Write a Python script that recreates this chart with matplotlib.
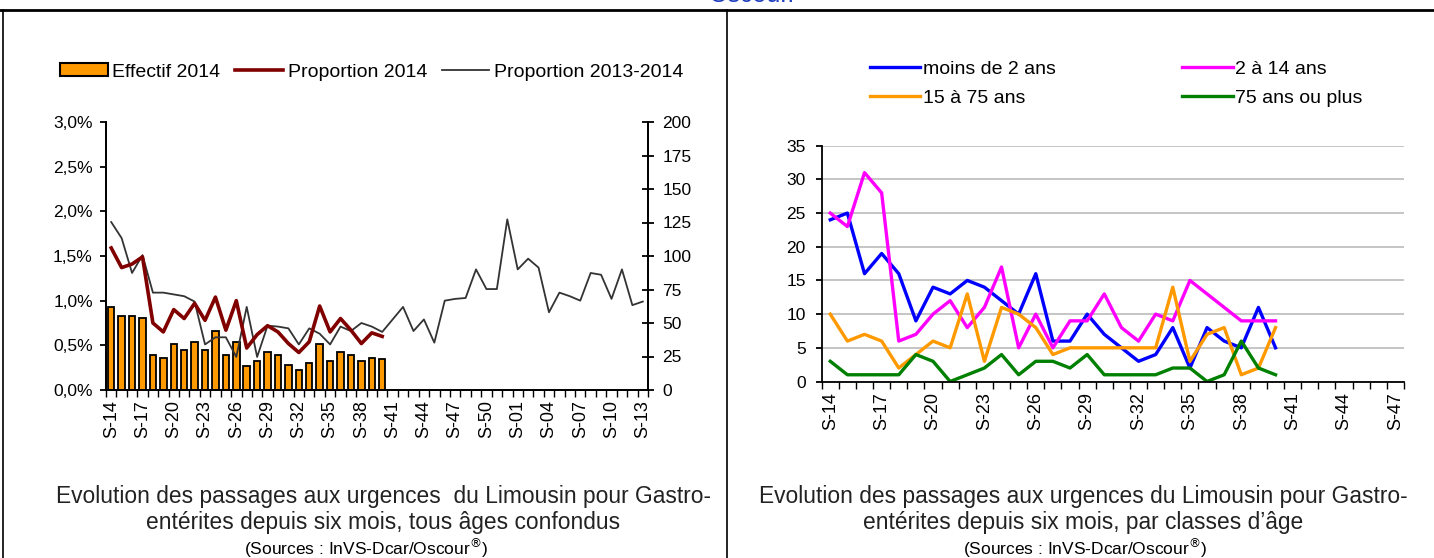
import matplotlib
matplotlib.use("Agg")
import matplotlib.pyplot as plt
from matplotlib.lines import Line2D
from matplotlib.patches import Patch
from matplotlib.ticker import FixedLocator, FuncFormatter

plt.rcParams['font.family'] = ['Liberation Sans', 'DejaVu Sans']

# ---- data: left chart (tous ages) ----
weeks_left = ['S-%02d' % w for w in range(14, 53)] + ['S-%02d' % w for w in range(1, 14)]
effectif_2014 = [62, 55, 55, 54, 26, 24, 34, 30, 36, 30, 44, 26, 36, 18, 22, 28, 26,
                 19, 15, 20, 34, 22, 28, 26, 22, 24, 23]
proportion_2014 = [1.59, 1.37, 1.41, 1.49, 0.75, 0.65, 0.90, 0.80, 0.97, 0.78, 1.04,
                   0.67, 1.00, 0.47, 0.62, 0.72, 0.65, 0.52, 0.42, 0.54, 0.94, 0.65,
                   0.80, 0.67, 0.52, 0.64, 0.60]
proportion_2013_2014 = [1.88, 1.70, 1.31, 1.51, 1.09, 1.09, 1.07, 1.05, 0.99, 0.51,
                        0.59, 0.59, 0.37, 0.93, 0.37, 0.72, 0.71, 0.69, 0.51, 0.69,
                        0.63, 0.51, 0.71, 0.66, 0.75, 0.71, 0.65, 0.79, 0.93, 0.66,
                        0.79, 0.53, 1.00, 1.02, 1.03, 1.35, 1.13, 1.13, 1.91, 1.35,
                        1.47, 1.37, 0.87, 1.09, 1.05, 1.00, 1.31, 1.29, 1.02, 1.35,
                        0.95, 0.99]

# ---- data: right chart (classes d'age) ----
weeks_right = ['S-%02d' % w for w in range(14, 48)]
moins_2 = [24, 25, 16, 19, 16, 9, 14, 13, 15, 14, 12, 10, 16, 6, 6, 10, 7, 5, 3, 4,
           8, 2, 8, 6, 5, 11, 5]
de_2_14 = [25, 23, 31, 28, 6, 7, 10, 12, 8, 11, 17, 5, 10, 5, 9, 9, 13, 8, 6, 10,
           9, 15, 13, 11, 9, 9, 9]
de_15_75 = [10, 6, 7, 6, 2, 4, 6, 5, 13, 3, 11, 10, 8, 4, 5, 5, 5, 5, 5, 5, 14, 3,
            7, 8, 1, 2, 8]
plus_75 = [3, 1, 1, 1, 1, 4, 3, 0, 1, 2, 4, 1, 3, 3, 2, 4, 1, 1, 1, 1, 2, 2, 0, 1,
           6, 2, 1]

W, H = 1434, 558
fig = plt.figure(figsize=(W / 100, H / 100), dpi=100)
fig.patch.set_facecolor('white')

def fx(px):
    return px / W

def fy(py):
    return 1 - py / H

def cat_axis(ax, labels, step=3):
    n = len(labels)
    ax.set_xlim(-0.5, n - 0.5)
    major = list(range(0, n, step))
    ax.xaxis.set_major_locator(FixedLocator(major))
    ax.set_xticklabels([labels[i] for i in major], rotation=90)
    ax.xaxis.set_minor_locator(FixedLocator([i - 0.5 for i in range(n + 1)]))
    ax.tick_params(axis='x', which='major', length=0, pad=7.5, labelsize=13)
    ax.tick_params(axis='x', which='minor', length=5, width=1, direction='out')

# ================= left chart =================
ax = fig.add_axes([fx(106), fy(390), fx(648 - 106), (390 - 122) / H])
ax2 = ax.twinx()
ax.set_zorder(ax2.get_zorder() + 1)
ax.patch.set_visible(False)

x_bars = range(len(effectif_2014))
ax2.bar(x_bars, effectif_2014, width=0.62, color='#FF9900', edgecolor='black',
        linewidth=1.3)
ax2.set_ylim(0, 200)
ax2.set_yticks(range(0, 201, 25))
ax2.tick_params(axis='y', direction='inout', length=9, width=1.3, pad=6, labelsize=12.5)

ax.plot(range(len(proportion_2013_2014)), proportion_2013_2014, color='#333333',
        linewidth=1.3)
ax.plot(range(len(proportion_2014)), proportion_2014, color='#800000', linewidth=2.6)
ax.set_ylim(0, 3.0)
ax.set_yticks([0, 0.5, 1.0, 1.5, 2.0, 2.5, 3.0])
ax.yaxis.set_major_formatter(FuncFormatter(lambda v, p: ('%.1f%%' % v).replace('.', ',')))
ax.tick_params(axis='y', direction='out', length=4.5, width=1.3, pad=5, labelsize=12.5)
cat_axis(ax, weeks_left)
for a in (ax, ax2):
    a.spines['top'].set_visible(False)
    for s in ('left', 'right', 'bottom'):
        a.spines[s].set_linewidth(1.3)

handles = [Patch(facecolor='#FF9900', edgecolor='black', linewidth=1.5),
           Line2D([], [], color='#800000', linewidth=2.6),
           Line2D([], [], color='#333333', linewidth=1.3)]
fig.legend(handles, ['Effectif 2014', 'Proportion 2014', 'Proportion 2013-2014'],
           loc='center left', bbox_to_anchor=(fx(60), fy(72)), ncol=3, frameon=False,
           fontsize=14, handlelength=2.45, handleheight=0.6, handletextpad=0.25,
           columnspacing=0.75, borderpad=0, borderaxespad=0)

# ================= right chart =================
bx = fig.add_axes([fx(821.7), fy(381.5), fx(1404 - 821.7), (381.5 - 145.7) / H])
colors = {'moins de 2 ans': '#0000FF', '2 à 14 ans': '#FF00FF',
          '15 à 75 ans': '#FF9900', '75 ans ou plus': '#008000'}
series = {'moins de 2 ans': moins_2, '2 à 14 ans': de_2_14,
          '15 à 75 ans': de_15_75, '75 ans ou plus': plus_75}
lines = {}
for name, vals in series.items():
    lines[name], = bx.plot(range(len(vals)), vals, color=colors[name], linewidth=2.4)
bx.set_ylim(0, 35)
bx.set_yticks(range(0, 36, 5))
bx.yaxis.grid(True, color='#C0C0C0', linewidth=1.3)
bx.set_axisbelow(True)
bx.tick_params(axis='y', direction='out', length=4.5, width=1.3, pad=7, labelsize=12.5)
cat_axis(bx, weeks_right)
bx.spines['top'].set_visible(False)
bx.spines['right'].set_visible(False)
bx.spines['left'].set_linewidth(1.3)
bx.spines['bottom'].set_linewidth(1.3)

order = ['moins de 2 ans', '15 à 75 ans', '2 à 14 ans', '75 ans ou plus']
fig.legend([lines[k] for k in order], order, loc='center left',
           bbox_to_anchor=(fx(870), fy(83.5)), ncol=2, frameon=False, fontsize=14,
           handlelength=2.58, handletextpad=0.15, columnspacing=6.5, labelspacing=0.6,
           borderpad=0, borderaxespad=0)

# ================= captions and frame =================
cap_font = ['Liberation Sans Narrow', 'Liberation Sans', 'DejaVu Sans']
fig.text(fx(383), fy(497), 'Evolution des passages aux urgences  du Limousin pour Gastro-',
         ha='center', va='center', fontsize=16.4, family=cap_font, color='#222222')
fig.text(fx(383), fy(523), 'entérites depuis six mois, tous âges confondus',
         ha='center', va='center', fontsize=16.4, family=cap_font, color='#222222')
fig.text(fx(366), fy(548), r'(Sources : InVS-Dcar/Oscour$^{\circledR}$)',
         ha='center', va='center', fontsize=12.5, family=cap_font, color='black')
fig.text(fx(1083), fy(497), 'Evolution des passages aux urgences du Limousin pour Gastro-',
         ha='center', va='center', fontsize=16.4, family=cap_font, color='#222222')
fig.text(fx(1083), fy(523), 'entérites depuis six mois, par classes d\u2019âge',
         ha='center', va='center', fontsize=16.4, family=cap_font, color='#222222')
fig.text(fx(1085), fy(548), r'(Sources : InVS-Dcar/Oscour$^{\circledR}$)',
         ha='center', va='center', fontsize=12.5, family=cap_font, color='black')

fig.text(fx(752), fy(2), 'Oscour.', ha='center', va='baseline', fontsize=18,
         color='#1F3FBF')

fig.add_artist(Line2D([0, 1], [fy(10), fy(10)], transform=fig.transFigure,
                      color='black', linewidth=2))
for xp in (3, 727):
    fig.add_artist(Line2D([fx(xp), fx(xp)], [fy(10), 0], transform=fig.transFigure,
                          color='black', linewidth=1.2))

fig.savefig('out.png', dpi=100, facecolor='white')
